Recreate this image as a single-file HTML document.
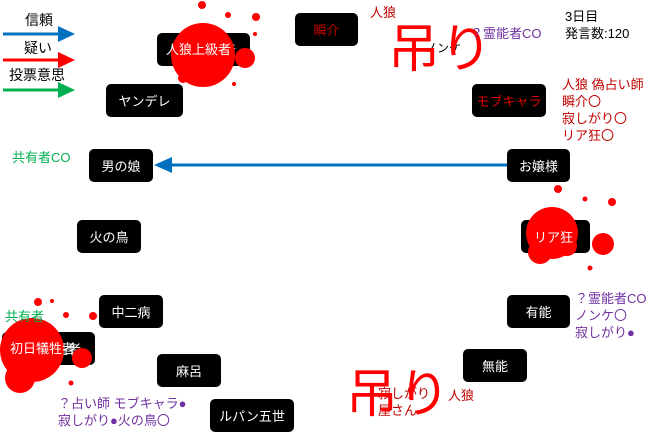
<!DOCTYPE html>
<html><head><meta charset="utf-8"><style>
body{margin:0;width:660px;height:437px;background:#fff;position:relative;overflow:hidden;font-family:"Liberation Sans","Noto Sans CJK JP",sans-serif}
.n{position:absolute;background:#000;color:#fff;border-radius:5px;font-size:13px;display:flex;align-items:center;justify-content:center;height:33px}
.t{position:absolute;font-size:13px;line-height:17px;white-space:nowrap}
svg{position:absolute;left:0;top:0}
</style></head><body>
<svg width="660" height="437">
<line x1="3" y1="34" x2="60" y2="34" stroke="#0070c0" stroke-width="3"/><polygon points="58,26 75,34 58,42" fill="#0070c0"/>
<line x1="3" y1="60" x2="60" y2="60" stroke="#ff0000" stroke-width="3"/><polygon points="58,52 75,60 58,68" fill="#ff0000"/>
<line x1="3" y1="90" x2="60" y2="90" stroke="#00b050" stroke-width="3"/><polygon points="58,82 75,90 58,98" fill="#00b050"/>
<line x1="170" y1="165" x2="507" y2="165" stroke="#0070c0" stroke-width="3"/><polygon points="172,157 154,165 172,173" fill="#0070c0"/>
</svg>
<div class="t" style="left:25px;top:12px;font-size:14px">信頼</div>
<div class="t" style="left:24px;top:40px;font-size:14px">疑い</div>
<div class="t" style="left:9px;top:67px;font-size:14px">投票意思</div>

<div class="n" style="left:295px;top:13px;width:63px;color:#c00000">瞬介</div>
<div class="n" style="left:157px;top:33px;width:93px">人狼上級者</div>
<div class="n" style="left:106px;top:84px;width:77px">ヤンデレ</div>
<div class="n" style="left:472px;top:84px;width:74px;color:#e00000">モブキャラ</div>
<div class="n" style="left:89px;top:149px;width:64px">男の娘</div>
<div class="n" style="left:507px;top:149px;width:63px">お嬢様</div>
<div class="n" style="left:77px;top:220px;width:64px">火の鳥</div>
<div class="n" style="left:521px;top:220px;width:69px">リア狂</div>
<div class="n" style="left:99px;top:295px;width:64px">中二病</div>
<div class="n" style="left:2px;top:332px;width:93px">初日犠牲者</div>
<div class="n" style="left:507px;top:295px;width:63px">有能</div>
<div class="n" style="left:157px;top:354px;width:64px">麻呂</div>
<div class="n" style="left:463px;top:349px;width:64px">無能</div>
<div class="n" style="left:210px;top:399px;width:84px">ルパン五世</div>

<svg width="660" height="437">
<g fill="#ff0000">
<circle cx="203" cy="55" r="32"/><circle cx="245" cy="58" r="10"/><circle cx="202" cy="5" r="4"/><circle cx="228" cy="15" r="3"/><circle cx="256" cy="17" r="4"/><circle cx="234" cy="84" r="2"/><circle cx="183" cy="78" r="5"/><circle cx="255" cy="34" r="2"/>
<circle cx="552" cy="233" r="26"/><circle cx="567" cy="246" r="10"/><circle cx="603" cy="244" r="11"/><circle cx="590" cy="268" r="2.5"/><circle cx="558" cy="189" r="4"/><circle cx="612" cy="202" r="4"/><circle cx="585" cy="199" r="2.5"/><circle cx="540" cy="252" r="12"/>
<circle cx="32" cy="350" r="32"/><circle cx="82" cy="358" r="10"/><circle cx="38" cy="302" r="4"/><circle cx="66" cy="315" r="3"/><circle cx="93" cy="316" r="4"/><circle cx="71" cy="383" r="2.5"/><circle cx="52" cy="301" r="2"/><circle cx="20" cy="378" r="15"/>
</g></svg>
<div class="t" style="left:166px;top:41px;color:#fff;font-size:13px">人狼上級者</div>
<div class="t" style="left:534px;top:229px;color:#fff">リア狂</div>
<div class="t" style="left:10px;top:340px;color:#fff">初日犠牲者</div>

<div class="t" style="left:370px;top:4px;color:#c00000">人狼</div>
<div class="t" style="left:425px;top:40px;color:#000;font-size:12px">ノンケ</div>
<div class="t" style="left:388px;top:18px;color:#ff0000;font-size:52px;line-height:64px">吊り</div>
<div class="t" style="left:470px;top:25px;color:#7030a0">？霊能者CO</div>
<div class="t" style="left:565px;top:8px;color:#000">3日目<br>発言数:120</div>
<div class="t" style="left:562px;top:76px;color:#c00000;font-size:13px">人狼 偽占い師<br>瞬介〇<br>寂しがり〇<br>リア狂〇</div>
<div class="t" style="left:12px;top:149px;color:#00b050">共有者CO</div>
<div class="t" style="left:5px;top:308px;color:#00b050">共有者</div>
<div class="t" style="left:575px;top:290px;color:#7030a0">？霊能者CO<br>ノンケ〇<br>寂しがり●</div>
<div class="t" style="left:58px;top:395px;color:#7030a0">？占い師 モブキャラ●<br>寂しがり●火の鳥〇</div>
<div class="t" style="left:378px;top:385px;color:#c00000">寂しがり<br>屋さん</div>
<div class="t" style="left:448px;top:387px;color:#c00000">人狼</div>
<div class="t" style="left:346px;top:363px;color:#ff0000;font-size:52px;line-height:64px">吊り</div>
</body></html>
